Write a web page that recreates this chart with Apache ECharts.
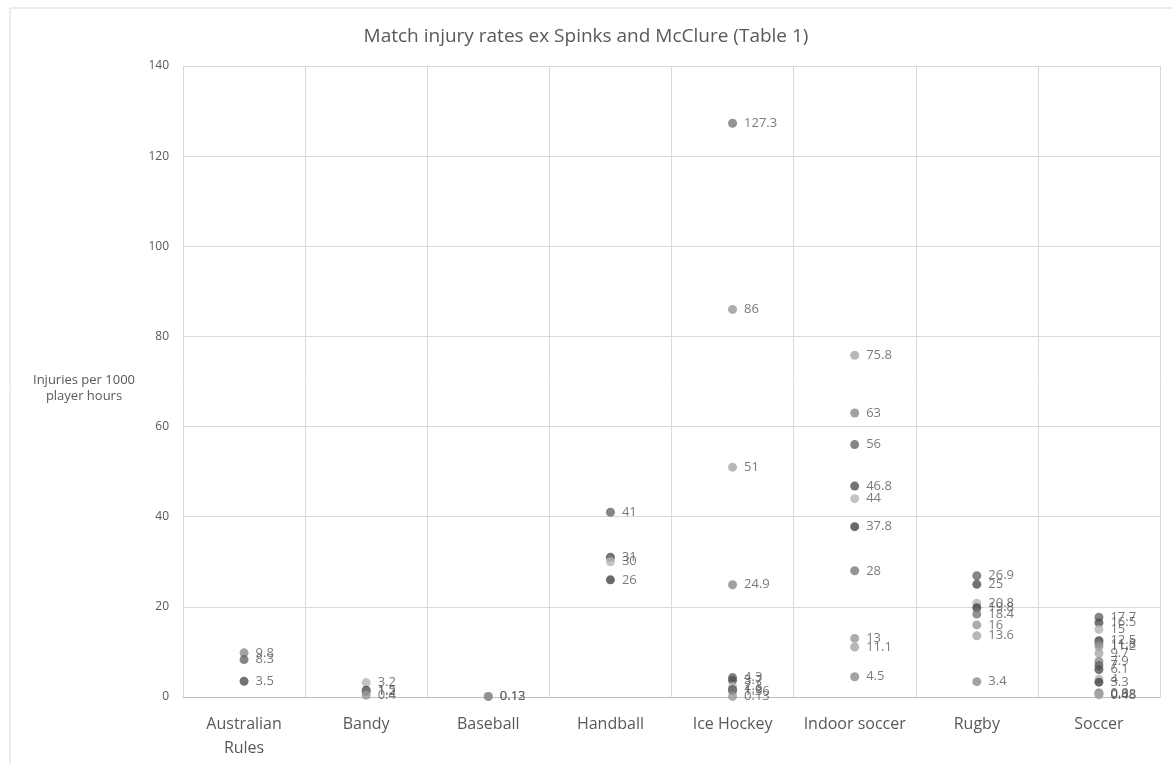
<!DOCTYPE html>
<html>
<head>
<meta charset="utf-8">
<title>Match injury rates</title>
<script src="https://cdn.jsdelivr.net/npm/echarts@6/dist/echarts.min.js"></script>
<style>
  html, body { margin: 0; padding: 0; background: #fff; }
  #chart { width: 1172px; height: 764px; }
</style>
</head>
<body>
<div id="chart"></div>
<script>
// categories (sports) and the injury rates
const sports = ["Australian\nRules", "Bandy", "Baseball", "Handball", "Ice Hockey", "Indoor soccer", "Rugby", "Soccer"];
const australianRules = [9.8, 8.3, 3.5];
const bandy = [3.2, 1.5, 1.2, 0.4];
const baseball = [0.12, 0.13];
const handball = [41, 31, 30, 26];
const iceHockey = [127.3, 86, 51, 24.9, 4.3, 3.7, 2.3, 1.6, 1.36, 0.13];
const indoorSoccer = [75.8, 63, 56, 46.8, 44, 37.8, 28, 13, 11.1, 4.5];
const rugby = [26.9, 25, 20.8, 19.8, 18.4, 16, 13.6, 3.4];
const soccer = [17.7, 16.5, 15, 12.5, 11.8, 11.2, 9.7, 7.9, 7, 6.1, 4, 3.3, 0.9, 0.68, 0.48];
const yTicks = [0, 20, 40, 60, 80, 100, 120, 140];

const columns = [australianRules, bandy, baseball, handball, iceHockey, indoorSoccer, rugby, soccer];

// grey shades cycled over the points, like the Excel monochrome palette
const shades = ["#8a8a8a", "#666666", "#505050", "#b5b5b5", "#444444", "#787878", "#999999", "#a6a6a6"];

const points = [];
let n = 0;
columns.forEach((vals, ci) => {
  vals.forEach((v) => {
    points.push({ value: [ci, v], itemStyle: { color: shades[n % shades.length] } });
    n++;
  });
});

const font = "'Open Sans', 'Noto Sans', sans-serif";
const chart = echarts.init(document.getElementById("chart"));

chart.setOption({
  animation: false,
  textStyle: { fontFamily: font },
  title: {
    text: "Match injury rates ex Spinks and McClure (Table 1)",
    left: "center",
    top: 22,
    textStyle: { fontSize: 19, fontWeight: "normal", color: "#595959", fontFamily: font },
  },
  grid: { left: 183, right: 12, top: 66, bottom: 67 },
  xAxis: {
    type: "category",
    data: sports,
    boundaryGap: true,
    axisLine: { lineStyle: { color: "#bfbfbf", width: 1 } },
    axisTick: { show: false },
    splitLine: { show: true, interval: 0, lineStyle: { color: "#d9d9d9" } },
    axisLabel: { interval: 0, color: "#595959", fontSize: 16, margin: 15, lineHeight: 24, fontFamily: font },
  },
  yAxis: {
    type: "value",
    min: yTicks[0],
    max: yTicks[yTicks.length - 1],
    interval: yTicks[1] - yTicks[0],
    axisLine: { show: false },
    axisTick: { show: false },
    splitLine: { lineStyle: { color: "#d9d9d9" } },
    axisLabel: { color: "#595959", fontSize: 12, margin: 14, fontFamily: font },
  },
  graphic: [
    {
      type: "rect",
      shape: { x: 10, y: 8, width: 1180, height: 800 },
      style: { fill: "none", stroke: "#d9d9d9", lineWidth: 1 },
    },
    {
      type: "text",
      style: {
        text: "Injuries per 1000\nplayer hours",
        x: 84,
        y: 372,
        align: "center",
        verticalAlign: "top",
        fill: "#595959",
        fontSize: 13,
        lineHeight: 16,
        fontFamily: font,
      },
    },
  ],
  series: [
    {
      type: "scatter",
      data: points,
      symbol: "circle",
      symbolSize: 9,
      label: {
        show: true,
        position: "right",
        distance: 7,
        formatter: (p) => String(p.value[1]),
        color: "#595959",
        fontSize: 13,
        fontFamily: font,
      },
      emphasis: { disabled: true },
    },
  ],
});
</script>
</body>
</html>
